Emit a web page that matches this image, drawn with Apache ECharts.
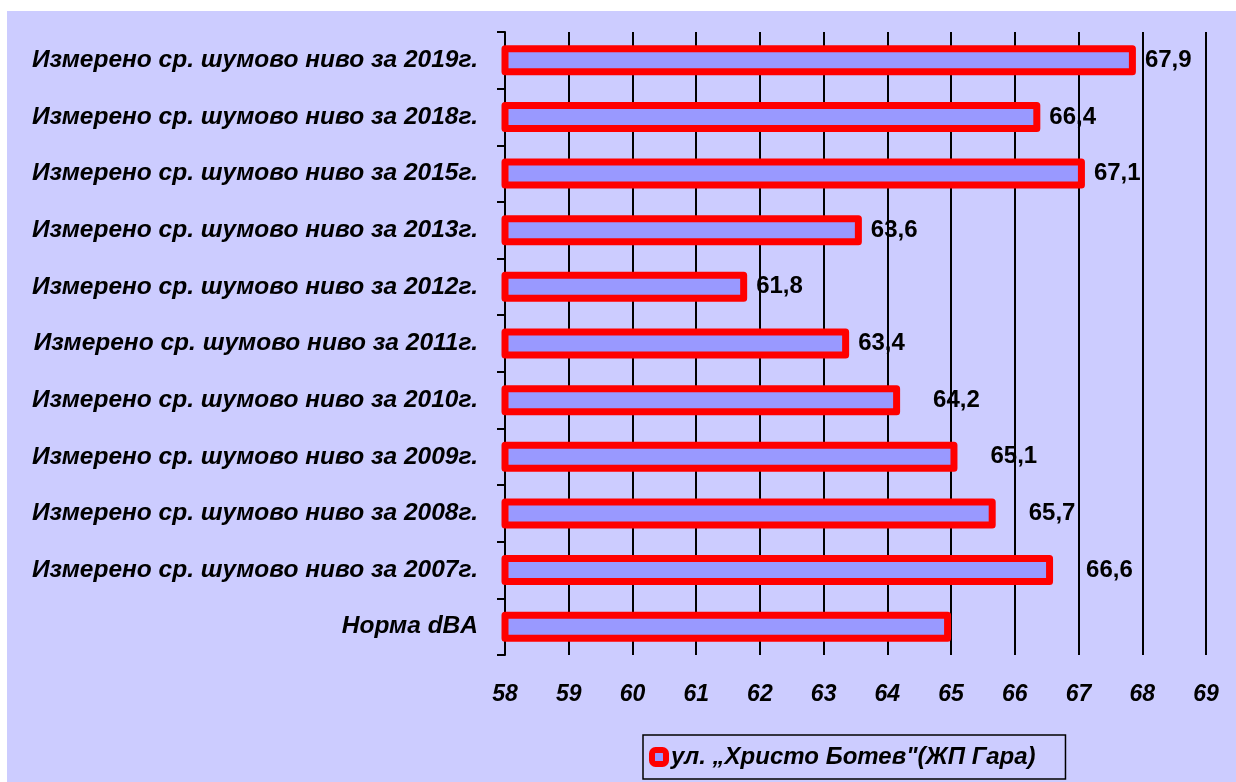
<!DOCTYPE html>
<html>
<head>
<meta charset="utf-8">
<script src="https://cdn.jsdelivr.net/npm/echarts@6/dist/echarts.min.js"></script>
<style>
  * { margin: 0; padding: 0; }
  body { background: #fff; width: 1236px; height: 782px; position: relative; overflow: hidden; }
  #main { position: absolute; left: 7px; top: 11px; width: 1229px; height: 771px; }
</style>
</head>
<body>
<div id="main"></div>
<script>
// категории отгоре надолу
var categories = [
  "Измерено ср. шумово ниво за 2019г.",
  "Измерено ср. шумово ниво за 2018г.",
  "Измерено ср. шумово ниво за 2015г.",
  "Измерено ср. шумово ниво за 2013г.",
  "Измерено ср. шумово ниво за 2012г.",
  "Измерено ср. шумово ниво за 2011г.",
  "Измерено ср. шумово ниво за 2010г.",
  "Измерено ср. шумово ниво за 2009г.",
  "Измерено ср. шумово ниво за 2008г.",
  "Измерено ср. шумово ниво за 2007г.",
  "Норма dBA"
];
var values = [67.9, 66.4, 67.1, 63.6, 61.8, 63.4, 64.2, 65.1, 65.7, 66.6, 65];
var seriesName = "ул. „Христо Ботев\"(ЖП Гара)";
var xMin = 58, xMax = 69;

var font = "Liberation Sans, Arial, sans-serif";

var chart = echarts.init(document.getElementById("main"));

var data = values.map(function (v, i) {
  var item = { value: v };
  if (i === values.length - 1) {
    item.label = { show: false }; // нормата е без етикет
  } else if (i >= 6) {
    item.label = { distance: 33 };
  }
  return item;
});

chart.setOption({
  backgroundColor: "#CCCCFF",
  animation: false,
  grid: { left: 498, right: 30, top: 21, bottom: 127 },
  legend: {
    left: 636,
    top: 724,
    padding: [10, 30, 10, 6],
    borderColor: "#000",
    borderWidth: 1.5,
    itemWidth: 14,
    itemHeight: 14,
    icon: "roundRect",
    itemStyle: { borderWidth: 6, borderColor: "#FF0000", color: "#9999FF" },
    textStyle: { fontFamily: font, fontSize: 24, fontWeight: "bold", fontStyle: "italic", color: "#000", lineHeight: 23 },
    data: [seriesName]
  },
  xAxis: {
    type: "value",
    min: xMin,
    max: xMax,
    interval: 1,
    axisLine: { show: false },
    axisTick: { show: false },
    splitLine: { show: true, lineStyle: { color: "#000", width: 2 } },
    axisLabel: { margin: 28, fontFamily: font, fontSize: 23, fontWeight: "bold", fontStyle: "italic", color: "#000" }
  },
  yAxis: {
    type: "category",
    inverse: true,
    data: categories,
    axisLine: { show: true, lineStyle: { color: "#000", width: 2 } },
    axisTick: { show: true, length: 8, lineStyle: { color: "#000", width: 2 } },
    axisLabel: { margin: 27, fontFamily: font, fontSize: 24.5, fontWeight: "bold", fontStyle: "italic", color: "#000" }
  },
  series: [{
    name: seriesName,
    type: "bar",
    data: data,
    barWidth: 30,
    z: 3,
    itemStyle: { color: "#9999FF", borderColor: "#FF0000", borderWidth: 7, borderJoin: "round" },
    label: {
      show: true,
      position: "right",
      distance: 9,
      fontFamily: font,
      fontSize: 24,
      fontWeight: "bold",
      color: "#000",
      formatter: function (p) { return p.value.toFixed(1).replace(".", ","); }
    }
  }]
});
</script>
</body>
</html>
